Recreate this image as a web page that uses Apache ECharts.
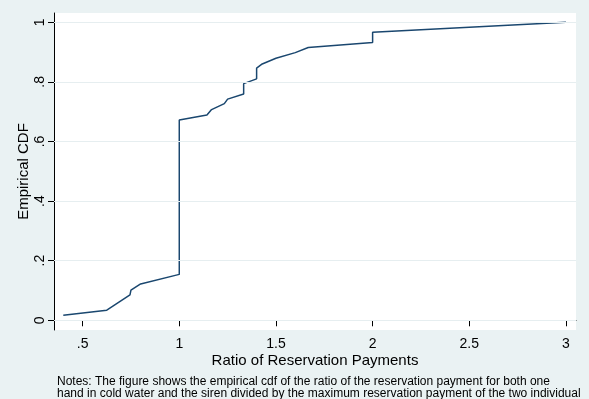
<!DOCTYPE html>
<html><head><meta charset="utf-8">
<script src="https://cdn.jsdelivr.net/npm/echarts@6/dist/echarts.min.js"></script>
<style>html,body{margin:0;padding:0;background:#eaf2f3}#c{width:589px;height:399px}</style>
</head><body><div id="c"></div>
<script>
// Data
const ratio = [0.4, 0.625, 0.745, 0.75, 0.8, 1.0, 1.0, 1.143, 1.167, 1.233, 1.25, 1.333, 1.333, 1.4, 1.4, 1.429, 1.5, 1.6, 1.667, 2.0, 2.0, 3.0];
const cdf   = [0.017, 0.034, 0.085, 0.101, 0.122, 0.154, 0.672, 0.689, 0.707, 0.727, 0.742, 0.759, 0.794, 0.810, 0.846, 0.860, 0.879, 0.898, 0.915, 0.932, 0.966, 1.0];
const xTicks = [0.5, 1, 1.5, 2, 2.5, 3];
const yTicks = [0, 0.2, 0.4, 0.6, 0.8, 1];
const xTitle = 'Ratio of Reservation Payments';
const yTitle = 'Empirical CDF';
const notes = ['Notes: The figure shows the empirical cdf of the ratio of the reservation payment for both one',
               'hand in cold water and the siren divided by the maximum reservation payment of the two individual'];

const FONT = 'Liberation Sans, Arial, Helvetica, sans-serif';
const fmt = v => String(+v.toFixed(3)).replace(/^0\./, '.');
const chart = echarts.init(document.getElementById('c'), null, {renderer: 'canvas'});
chart.setOption({
  animation: false,
  backgroundColor: '#eaf2f3',
  textStyle: {fontFamily: FONT},
  grid: {left: 54, top: 13, width: 522, height: 317, show: true, backgroundColor: '#ffffff', borderWidth: 0},
  xAxis: {
    type: 'value', min: 0.352, max: 3.052,
    axisLine: {show: true, lineStyle: {color: '#000', width: 1}},
    axisTick: {show: true, customValues: xTicks, length: 6, lineStyle: {color: '#000'}},
    axisLabel: {customValues: xTicks, formatter: fmt, color: '#000', fontSize: 14, margin: 7, fontFamily: FONT},
    splitLine: {show: false},
    name: xTitle, nameLocation: 'middle', nameGap: 23, nameMoveOverlap: false,
    nameTextStyle: {color: '#000', fontSize: 15, fontFamily: FONT}
  },
  yAxis: {
    type: 'value', min: -0.0326, max: 1.031,
    axisLine: {show: true, lineStyle: {color: '#000', width: 1}},
    axisTick: {show: true, customValues: yTicks, length: 6, lineStyle: {color: '#000'}},
    axisLabel: {customValues: yTicks, formatter: fmt, rotate: 90, color: '#000', fontSize: 14, margin: 7, fontFamily: FONT},
    splitLine: {show: false},
    name: yTitle, nameLocation: 'middle', nameGap: 23, nameMoveOverlap: false,
    nameTextStyle: {color: '#000', fontSize: 15, fontFamily: FONT}
  },
  series: [
    {
      type: 'line', data: [], z: 1, silent: true,
      markLine: {
        silent: true, symbol: 'none', label: {show: false}, animation: false,
        lineStyle: {color: '#e6eef0', width: 1, type: 'solid'},
        data: yTicks.map(v => ({yAxis: v}))
      }
    },
    {
      type: 'line', z: 3, silent: true, symbol: 'none', smooth: false,
      lineStyle: {color: '#1a476f', width: 1.5},
      data: ratio.map((x, i) => [x, cdf[i]])
    }
  ],
  graphic: notes.map((t, i) => ({
    type: 'text', left: 57, top: 376 + i * 11.7, silent: true,
    style: {text: t, font: '12px ' + FONT, fill: '#000'}
  }))
});
</script>
</body></html>
